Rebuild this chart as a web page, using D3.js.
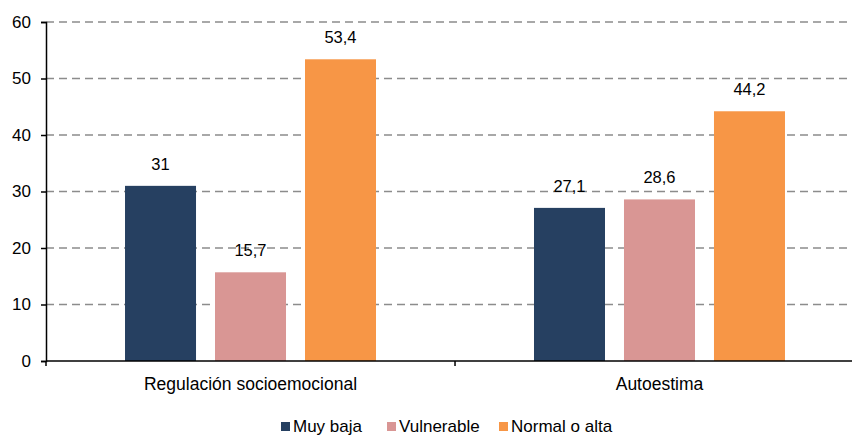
<html>
<head>
<meta charset="utf-8">
<script src="https://d3js.org/d3.v7.min.js"></script>
<style>
  body { margin: 0; background: #fff; }
  text { font-family: "Liberation Sans", Arial, sans-serif; fill: #000; }
</style>
</head>
<body>
<div id="chart"></div>
<script>
var categories = ["Regulación socioemocional", "Autoestima"];
var series = ["Muy baja", "Vulnerable", "Normal o alta"];
var colors = ["#264061", "#d99694", "#f79646"];
var muyBaja = [31, 27.1];
var vulnerable = [15.7, 28.6];
var normalAlta = [53.4, 44.2];
var yTicks = [0, 10, 20, 30, 40, 50, 60];

var values = [muyBaja, vulnerable, normalAlta];
var fmt = function(v) { return String(v).replace(".", ","); };

var width = 852, height = 435;
var plotLeft = 46, plotRight = 864, plotTop = 22, plotBottom = 361;

var svg = d3.select("#chart").append("svg")
  .attr("width", width)
  .attr("height", height);

var y = d3.scaleLinear().domain([0, 60]).range([plotBottom, plotTop]);

var x0 = d3.scaleBand().domain(categories).range([plotLeft, plotRight])
  .paddingInner(0.3863).paddingOuter(0.1932);
var x1 = d3.scaleBand().domain(series).range([0, x0.bandwidth()])
  .paddingInner(0.211).paddingOuter(0);

// gridlines
svg.append("g").selectAll("line")
  .data(yTicks.filter(function(d) { return d > 0; }))
  .enter().append("line")
  .attr("x1", plotLeft).attr("x2", plotRight)
  .attr("y1", function(d) { return y(d); })
  .attr("y2", function(d) { return y(d); })
  .attr("stroke", "#8c8c8c")
  .attr("stroke-width", 1.5)
  .attr("stroke-dasharray", "8,5");

// bars
var groups = svg.append("g").selectAll("g")
  .data(categories).enter().append("g")
  .attr("transform", function(d) { return "translate(" + x0(d) + ",0)"; });

groups.each(function(c, ci) {
  var g = d3.select(this);
  series.forEach(function(s, si) {
    var v = values[si][ci];
    g.append("rect")
      .attr("x", x1(s))
      .attr("y", y(v))
      .attr("width", x1.bandwidth())
      .attr("height", y(0) - y(v))
      .attr("fill", colors[si]);
    g.append("text")
      .attr("x", x1(s) + x1.bandwidth() / 2)
      .attr("y", y(v) - 16)
      .attr("text-anchor", "middle")
      .style("font-size", "16.5px")
      .text(fmt(v));
  });
});

// y axis
var yAxis = svg.append("g")
  .attr("transform", "translate(" + plotLeft + ",0)")
  .call(d3.axisLeft(y).tickValues(yTicks).tickSize(5).tickPadding(10));
yAxis.select(".domain").attr("stroke", "#000").attr("stroke-width", 1.5);
yAxis.selectAll(".tick line").attr("stroke", "#000").attr("stroke-width", 1.5);
yAxis.selectAll(".tick text").style("font-size", "17px")
  .style("font-family", "Liberation Sans, Arial, sans-serif");

// x axis
var xg = svg.append("g");
xg.append("line")
  .attr("x1", plotLeft).attr("x2", plotRight)
  .attr("y1", y(0)).attr("y2", y(0))
  .attr("stroke", "#000").attr("stroke-width", 1.5);
var boundaries = [plotLeft].concat(categories.map(function(c) { return x0(c) + x0.bandwidth() + x0.step() * x0.paddingOuter(); }));
xg.selectAll("line.tk").data(boundaries).enter().append("line")
  .attr("class", "tk")
  .attr("x1", function(d) { return d; }).attr("x2", function(d) { return d; })
  .attr("y1", y(0)).attr("y2", y(0) + 5)
  .attr("stroke", "#000").attr("stroke-width", 1.5);
xg.selectAll("text").data(categories).enter().append("text")
  .attr("x", function(d) { return x0(d) + x0.bandwidth() / 2; })
  .attr("y", 390)
  .attr("text-anchor", "middle")
  .style("font-size", "17.5px")
  .text(function(d) { return d; });

// legend
var legendX = [281, 387, 499];
var legend = svg.append("g").selectAll("g")
  .data(series).enter().append("g")
  .attr("transform", function(d, i) { return "translate(" + legendX[i] + ",422)"; });
legend.append("rect")
  .attr("width", 9).attr("height", 9)
  .attr("fill", function(d, i) { return colors[i]; });
legend.append("text")
  .attr("x", 12).attr("y", 10)
  .style("font-size", "17px")
  .text(function(d) { return d; });
</script>
</body>
</html>
